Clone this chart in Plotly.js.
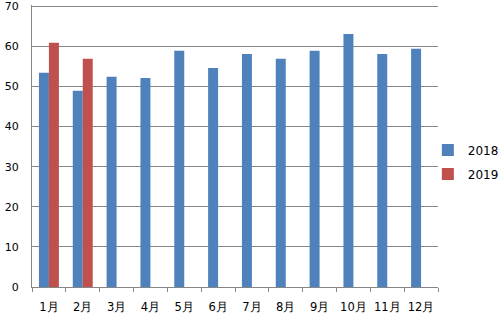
<!DOCTYPE html>
<html><head><meta charset="utf-8">
<script src="https://cdn.plot.ly/plotly-3.0.1.min.js"></script>
<style>html,body{margin:0;padding:0;background:#fff;}#chart{width:501px;height:322px;}</style>
</head><body><div id="chart"></div>
<script>
const months = ['1月','2月','3月','4月','5月','6月','7月','8月','9月','10月','11月','12月'];
const values2018 = [53.4, 48.9, 52.4, 52.1, 58.9, 54.6, 58.1, 56.9, 58.9, 63.1, 58.1, 59.4];
const values2019 = [60.9, 56.9, null, null, null, null, null, null, null, null, null, null];
const seriesNames = ['2018', '2019'];

const data = [
  {type:'bar', name:seriesNames[0], legendgroup:'a', x:months, y:values2018, marker:{color:'#4F81BD'}},
  {type:'bar', name:seriesNames[1], legendgroup:'b', x:months, y:values2019, marker:{color:'#C0504D'}}
];
const layout = {
  width:501, height:322,
  margin:{l:32, r:63, t:5, b:35, autoexpand:false},
  paper_bgcolor:'#fff', plot_bgcolor:'#fff',
  font:{family:'DejaVu Sans, Verdana, sans-serif', size:11, color:'#000'},
  barmode:'group', bargap:0.41, bargroupgap:0,
  showlegend:true,
  legend:{xref:'container', yref:'container', x:0.854, xanchor:'left', y:0.497, yanchor:'middle', font:{size:12}, itemwidth:30, traceorder:'grouped', tracegroupgap:5, bgcolor:'rgba(0,0,0,0)'},
  xaxis:{type:'category', showline:true, linecolor:'#868686', linewidth:1, ticks:'outside', tickson:'boundaries', ticklen:4, tickcolor:'#868686', showgrid:false, tickangle:0, ticklabelstandoff:9, tickfont:{size:11.5}, fixedrange:true, automargin:false},
  yaxis:{range:[0,70.3], tickvals:[0,10,20,30,40,50,60,70], showline:true, linecolor:'#868686', linewidth:1, gridcolor:'#868686', gridwidth:1, ticks:'', ticklabelstandoff:10, ticklabeloverflow:'allow', zeroline:false, fixedrange:true, automargin:false}
};
Plotly.newPlot('chart', data, layout, {displayModeBar:false, staticPlot:true});
</script></body></html>
